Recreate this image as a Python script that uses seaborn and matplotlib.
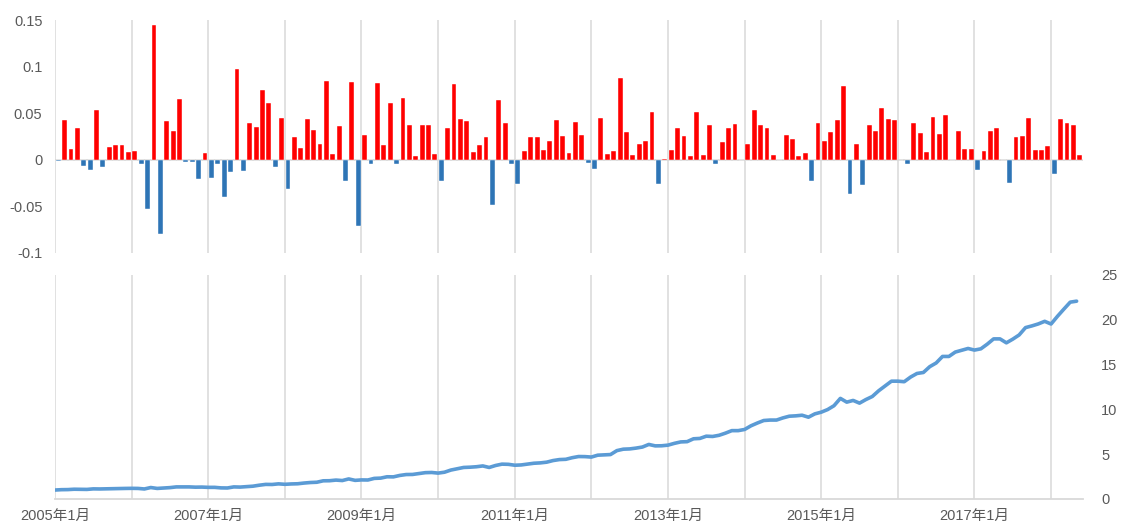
import numpy as np
import pandas as pd
import matplotlib
matplotlib.use("Agg")
import matplotlib.pyplot as plt
import seaborn as sns

# monthly returns, 2005-01 .. 2018-05
returns = [-0.001, 0.043, 0.012, 0.034, -0.007, -0.011, 0.053, -0.008, 0.014, 0.016, 0.016, 0.008,
           0.009, -0.005, -0.053, 0.145, -0.080, 0.042, 0.031, 0.065, -0.002, -0.002, -0.021, 0.007,
           -0.020, -0.004, -0.040, -0.013, 0.097, -0.012, 0.040, 0.035, 0.075, 0.061, -0.008, 0.045,
           -0.031, 0.025, 0.013, 0.044, 0.032, 0.017, 0.085, 0.006, 0.036, -0.023, 0.084, -0.071,
           0.027, -0.005, 0.082, 0.016, 0.061, -0.004, 0.066, 0.037, 0.004, 0.037, 0.037, 0.006,
           -0.023, 0.034, 0.081, 0.044, 0.042, 0.008, 0.016, 0.025, -0.048, 0.064, 0.039, -0.004,
           -0.026, 0.009, 0.024, 0.024, 0.011, 0.020, 0.043, 0.026, 0.007, 0.041, 0.027, -0.003,
           -0.010, 0.045, 0.006, 0.009, 0.088, 0.030, 0.005, 0.017, 0.020, 0.051, -0.026, 0.001,
           0.011, 0.034, 0.026, 0.004, 0.051, 0.005, 0.037, -0.004, 0.019, 0.034, 0.038, 0.0,
           0.017, 0.053, 0.037, 0.034, 0.005, 0.0, 0.027, 0.022, 0.004, 0.007, -0.023, 0.040,
           0.020, 0.030, 0.043, 0.079, -0.037, 0.017, -0.027, 0.037, 0.031, 0.056, 0.044, 0.043,
           0.0, -0.005, 0.040, 0.029, 0.008, 0.046, 0.028, 0.048, 0.0, 0.031, 0.012, 0.012,
           -0.011, 0.009, 0.031, 0.034, 0.0, -0.025, 0.024, 0.026, 0.045, 0.010, 0.011, 0.015,
           -0.015, 0.044, 0.039, 0.037, 0.005]

# cumulative value line, 2005-01 .. 2018-05
cumulative = [1.00, 1.04, 1.05, 1.09, 1.08, 1.07, 1.13, 1.12, 1.13, 1.15, 1.17, 1.18, 1.19, 1.18,
              1.12, 1.28, 1.18, 1.23, 1.27, 1.35, 1.35, 1.35, 1.32, 1.33, 1.30, 1.30, 1.24, 1.23,
              1.35, 1.33, 1.38, 1.43, 1.54, 1.63, 1.62, 1.69, 1.64, 1.68, 1.70, 1.78, 1.84, 1.87,
              2.03, 2.04, 2.11, 2.06, 2.24, 2.08, 2.13, 2.12, 2.30, 2.33, 2.48, 2.47, 2.63, 2.73,
              2.74, 2.84, 2.94, 2.96, 2.89, 2.99, 3.23, 3.38, 3.52, 3.55, 3.60, 3.69, 3.52, 3.74,
              3.89, 3.87, 3.77, 3.80, 3.90, 3.99, 4.03, 4.11, 4.29, 4.40, 4.43, 4.61, 4.74, 4.73,
              4.68, 4.89, 4.92, 4.96, 5.40, 5.56, 5.59, 5.68, 5.80, 6.09, 5.93, 5.94, 6.01, 6.21,
              6.37, 6.40, 6.72, 6.76, 7.01, 6.98, 7.11, 7.35, 7.63, 7.63, 7.76, 8.17, 8.48, 8.76,
              8.81, 8.81, 9.05, 9.24, 9.28, 9.35, 9.13, 9.50, 9.69, 9.98, 10.41, 11.23, 10.81, 11.00,
              10.70, 11.10, 11.44, 12.08, 12.61, 13.15, 13.15, 13.09, 13.61, 14.01, 14.12, 14.77, 15.18, 15.91,
              15.91, 16.40, 16.60, 16.80, 16.62, 16.76, 17.28, 17.87, 17.87, 17.43, 17.84, 18.31, 19.13, 19.32,
              19.54, 19.83, 19.53, 20.39, 21.19, 21.97, 22.08]

months = [f"{2005 + i // 12}年{i % 12 + 1}月" for i in range(len(returns))]
xtick_labels = ["2005年1月", "2007年1月", "2009年1月", "2011年1月",
                "2013年1月", "2015年1月", "2017年1月"]
top_yticks = [0.15, 0.1, 0.05, 0, -0.05, -0.1]
top_ytick_labels = ["0.15", "0.1", "0.05", "0", "-0.05", "-0.1"]
right_yticks = [0, 5, 10, 15, 20, 25]

sns.set_theme(style="white")
FONT = ["Liberation Sans", "Noto Sans CJK JP", "DejaVu Sans"]
plt.rcParams["font.family"] = FONT
TXT = "#595959"
GRID = "#D9D9D9"

df = pd.DataFrame({"month": months, "ret": returns,
                   "sign": ["pos" if v >= 0 else "neg" for v in returns],
                   "idx": np.arange(len(returns)), "cum": cumulative})

fig = plt.figure(figsize=(11.25, 5.31), dpi=100)
W, H = 1125, 531
left_px, right_px = 55, 1083
ax1 = fig.add_axes([left_px / W, 1 - 253 / H, (right_px - left_px) / W, (253 - 20) / H])
ax2 = fig.add_axes([left_px / W, 1 - 499 / H, (right_px - left_px) / W, (499 - 275) / H])

n = len(returns)
# --- top: monthly bars
sns.barplot(data=df, x="month", y="ret", hue="sign",
            palette={"pos": "#FF0000", "neg": "#2E75B6"}, dodge=False, saturation=1,
            width=0.76, legend=False, ax=ax1, edgecolor="white", linewidth=0.3,
            order=months)
ax1.set_xlim(-0.5, n - 0.5)
ax1.set_ylim(-0.1, 0.15)
for k in range(0, n, 12):
    ax1.axvline(k - 0.5, color=GRID, lw=1.1, zorder=0)
ax1.axhline(0, color=GRID, lw=1.3, zorder=0.5)
ax1.set_xticks([])
ax1.set_yticks(top_yticks)
ax1.set_yticklabels(top_ytick_labels)
ax1.tick_params(axis="y", length=0, pad=9, labelsize=10.5, labelcolor=TXT)
ax1.set_xlabel("")
ax1.set_ylabel("")
for s in ax1.spines.values():
    s.set_visible(False)

# --- bottom: cumulative line
sns.lineplot(data=df, x="idx", y="cum", color="#5B9BD5", lw=2.6, ax=ax2)
ax2.set_xlim(0, n)
ax2.set_ylim(0, 25)
for k in range(0, n, 12):
    ax2.axvline(k, color=GRID, lw=1.1, zorder=0)
ax2.set_xticks(list(range(0, n, 24)))
ax2.set_xticklabels(xtick_labels)
ax2.yaxis.tick_right()
ax2.set_yticks(right_yticks)
ax2.tick_params(axis="y", length=0, pad=13, labelsize=10.5, labelcolor=TXT)
ax2.tick_params(axis="x", length=0, pad=7, labelsize=10.5, labelcolor=TXT)
ax2.set_xlabel("")
ax2.set_ylabel("")
for s in ["top", "left", "right"]:
    ax2.spines[s].set_visible(False)
ax2.spines["bottom"].set_color(GRID)
ax2.spines["bottom"].set_linewidth(1.3)

fig.savefig("out.png", dpi=100)
